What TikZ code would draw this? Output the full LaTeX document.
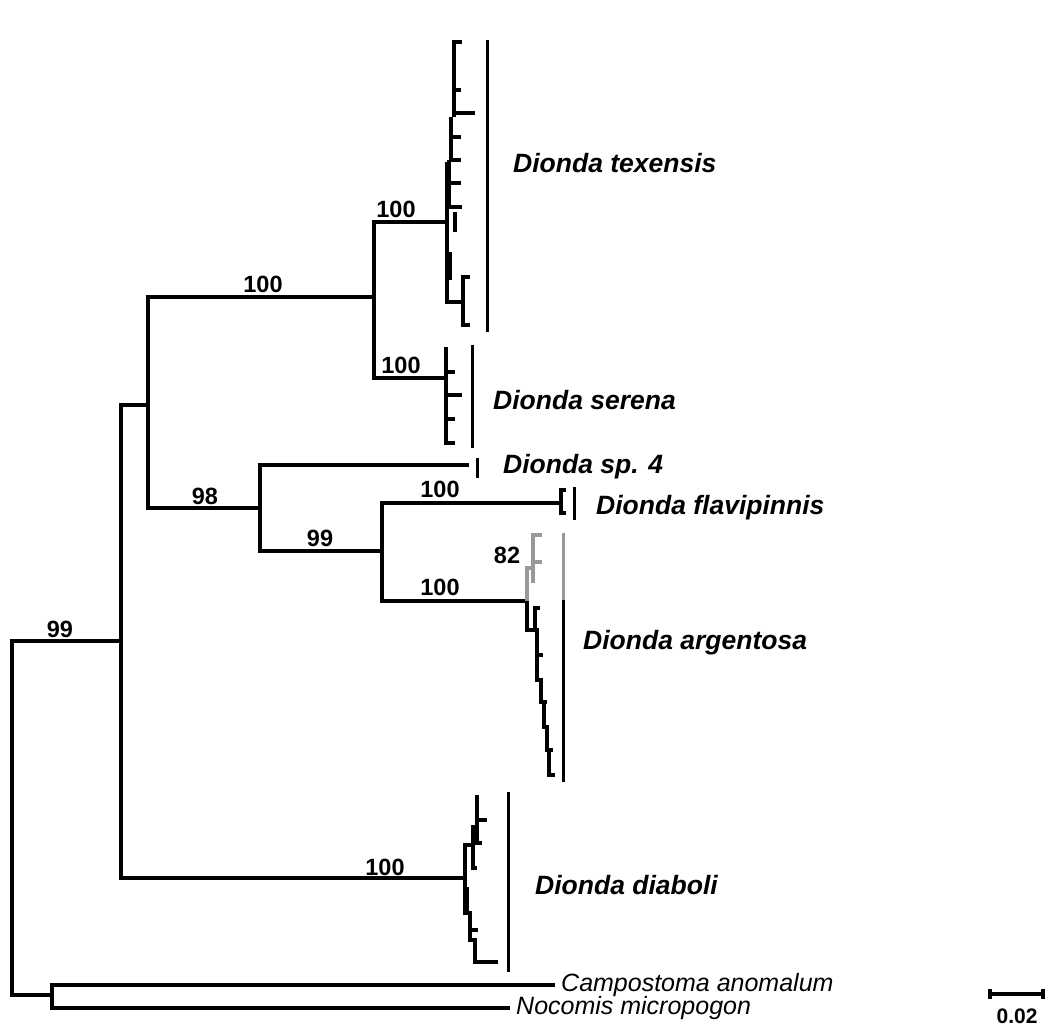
\documentclass[tikz,border=0pt]{standalone}
\usepackage{fontspec}
\setmainfont{Liberation Sans}
\usetikzlibrary{arrows.meta}
\tikzset{
  branch/.style={line width=3.6pt},
  tipline/.style={line width=3.4pt},
  cladebar/.style={line width=3pt},
  greytip/.style={tipline, draw=black!40},
  cladename/.style={anchor=west, inner sep=0pt, font=\fontsize{26.5}{30}\selectfont\bfseries\itshape},
  support/.style={inner sep=0pt, font=\fontsize{23.5}{28}\selectfont\bfseries},
  outname/.style={anchor=west, inner sep=0pt, font=\fontsize{25}{28}\selectfont\itshape},
}

\begin{document}
\begin{tikzpicture}[x=1pt,y=-1pt]
\useasboundingbox (0,0) rectangle (1062,1029);

% internal nodes of the tree
\coordinate (root) at (12,800);
\coordinate (ingr) at (121,641);
\coordinate (outg) at (52,995);
\coordinate (nB) at (148,405);
\coordinate (nC) at (374,297);
\coordinate (nD) at (260,508);
\coordinate (nE) at (382,551);
\coordinate (tex) at (447,222);
\coordinate (ser) at (446,378);
\coordinate (sp4) at (469,465);
\coordinate (fla) at (561,503);
\coordinate (arg) at (527,601);
\coordinate (dia) at (465,878);
\coordinate (camp) at (555,985);
\coordinate (noc) at (510,1008);

% backbone
\draw[branch] (ingr) -| (root) |- (outg);
\draw[branch] (camp) -| (outg) |- (noc);
\draw[branch] (nB) -| (ingr) |- (dia);
\draw[branch] (nC) -| (nB) |- (nD);
\draw[branch] (tex) -| (nC) |- (ser);
\draw[branch] (sp4) -| (nD) |- (nE);
\draw[branch] (fla) -| (nE) |- (arg);

% texensis tips
\draw[tipline] (462,42) -| (454,117);
\draw[tipline] (454,90) -- (461,90);
\draw[tipline] (454,113) -- (475,113);
\draw[tipline] (451,117) -- (451,162);
\draw[tipline] (451,137) -- (461,137);
\draw[tipline] (451,160) -- (461,160);
\draw[tipline] (449,160) -- (449,207);
\draw[tipline] (447,162) -- (447,302) -- (463,302);
\draw[tipline] (447,183) -- (461,183);
\draw[tipline] (447,207) -- (462,207);
\draw[tipline] (455,212) -- (455,232);
\draw[tipline] (450,252) -- (450,280);
\draw[tipline] (470,277) -| (463,325) -- (470,325);

% serena tips
\draw[tipline] (ser) -- (446,347);
\draw[tipline] (ser) |- (455,443);
\draw[tipline] (446,372) -- (455,372);
\draw[tipline] (446,395) -- (462,395);
\draw[tipline] (446,419) -- (455,419);

% flavipinnis tips
\draw[tipline] (566,490) -| (fla) |- (566,513);

% argentosa tips
\draw[greytip] (arg) |- (533,568);
\draw[greytip] (542,535) -| (533,583);
\draw[greytip] (533,562) -- (542,562);
\draw[tipline] (arg) |- (535,630);
\draw[tipline] (540,608) -| (535,630);
\draw[tipline] (535,630) -- (537,630) -- (537,680) -- (541,680) -- (541,702)
  -- (544,702) -- (544,727) -- (547,727) -- (547,750) -- (549,750) -- (549,775) -- (555,775);
\draw[tipline] (537,655) -- (543,655);
\draw[tipline] (541,702) -- (547,702);
\draw[tipline] (544,727) -- (549,727);
\draw[tipline] (547,750) -- (553,750);

% diaboli tips
\draw[tipline] (dia) |- (473,845);
\draw[tipline] (473,825) -- (473,868) -- (477,868);
\draw[tipline] (473,843) -- (482,843);
\draw[tipline] (477,795) -- (477,843);
\draw[tipline] (477,820) -- (487,820);
\draw[tipline] (dia) |- (470,913) -- (470,940) -- (475,940) -- (475,962) -- (498,962);
\draw[tipline] (470,930) -- (478,930);
\draw[tipline] (467,887) -- (467,913);

% clade bars
\draw[cladebar] (487,40) -- (487,332);
\draw[cladebar] (472,345) -- (472,448);
\draw[cladebar] (477,458) -- (477,478);
\draw[cladebar] (574,487) -- (574,520);
\draw[cladebar, draw=black!40] (563,533) -- (563,600);
\draw[cladebar] (563,600) -- (563,782);
\draw[cladebar] (508,792) -- (508,972);

% clade names
\node[cladename] (ntex) at (513,163) {Dionda texensis};
\node[cladename] (nser) at (493,400) {Dionda serena};
\node[cladename] (nsp4) at (503,467) {Dionda sp. 4};
\node[cladename] (nfla) at (596,508) {Dionda flavipinnis};
\node[cladename] (narg) at (583,643) {Dionda argentosa};
\node[cladename] (ndia) at (535,885) {Dionda diaboli};
\node[outname] (ncamp) at ([xshift=6pt]camp) {Campostoma anomalum};
\node[outname] (nnoc) at ([xshift=6pt]noc) {Nocomis micropogon};

% support values
\node[support] (b1) at (60,629) {99};
\node[support] (b2) at (263,284) {100};
\node[support] (b3) at (396,209) {100};
\node[support] (b4) at (401,365) {100};
\node[support] (b5) at (205,496) {98};
\node[support] (b6) at (320,538) {99};
\node[support] (b7) at (440,489) {100};
\node[support] (b8) at (440,587) {100};
\node[support] (b9) at (507,555) {82};
\node[support] (b10) at (385,867) {100};

% scale bar
\coordinate (sbl) at (988,994);
\coordinate (sbr) at (1045,994);
\draw[branch, {Bar[width=10pt]}-{Bar[width=10pt]}] (sbl) -- (sbr);
\node[support, font=\fontsize{21}{24}\selectfont\bfseries] (sbt) at (1017,1016) {0.02};
\end{tikzpicture}
\end{document}
